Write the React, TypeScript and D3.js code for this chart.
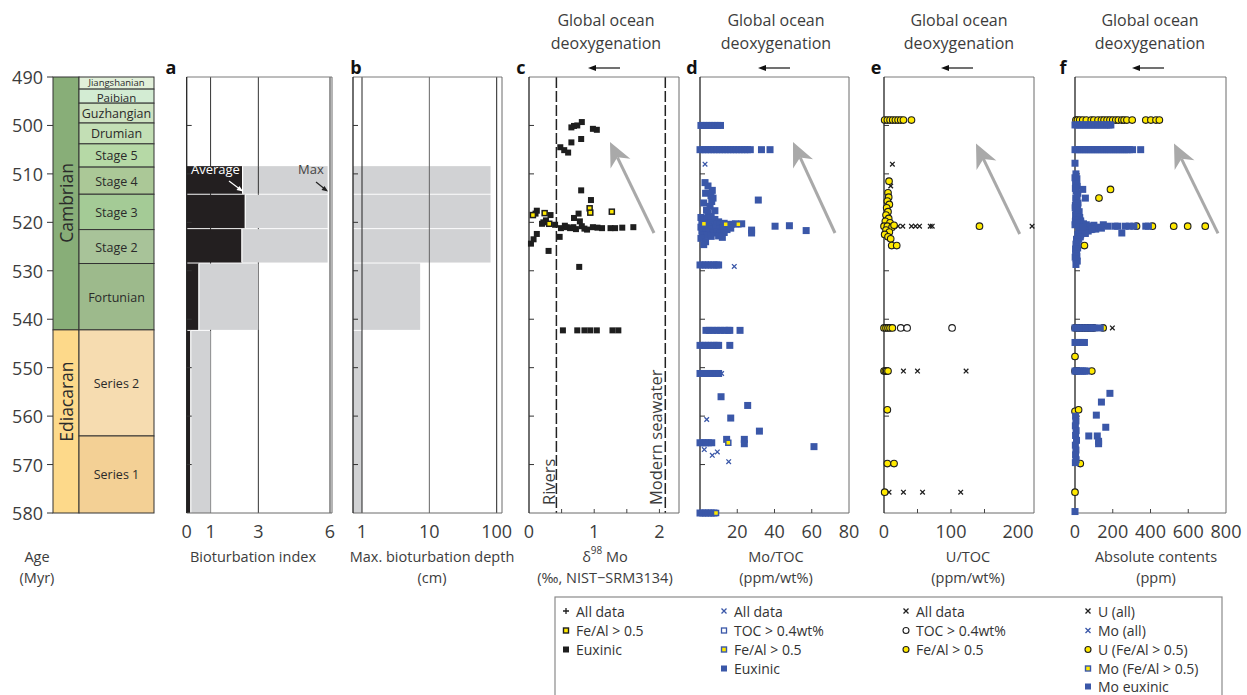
import React from "react";
import * as d3 from "d3";

type Pt = [number, number]; // [value, age in Myr]

const FONT = "'Open Sans', 'Noto Sans', 'DejaVu Sans', sans-serif";
const BLUE = "#3A57A8";
const YELLOW = "#FFE900";
const BLACK = "#1E1E1E";
const GRAY_BAR = "#D1D2D4";
const TEXT = "#3C3C3C";

// ---- geological time scale ----
const ageTicks = [490, 500, 510, 520, 530, 540, 550, 560, 570, 580];
const innerTicks = [500, 510, 520, 530, 540, 550, 560, 570];

const periods = [
  { name: "Cambrian", top: 490, base: 542.2, color: "#88AE78", labelAge: 516 },
  { name: "Ediacaran", top: 542.2, base: 580, color: "#FDD98A", labelAge: 557 },
];

const stages = [
  { name: "Jiangshanian", top: 490, base: 492.5, color: "#E2F0DA" },
  { name: "Paibian", top: 492.5, base: 495.4, color: "#D3ECD3" },
  { name: "Guzhangian", top: 495.4, base: 499.5, color: "#CEE3C1" },
  { name: "Drumian", top: 499.5, base: 503.8, color: "#C3DFB5" },
  { name: "Stage 5", top: 503.8, base: 508.6, color: "#B6D9A6" },
  { name: "Stage 4", top: 508.6, base: 514.2, color: "#ABC897" },
  { name: "Stage 3", top: 514.2, base: 521.5, color: "#A4CB96" },
  { name: "Stage 2", top: 521.5, base: 528.5, color: "#A8C399" },
  { name: "Fortunian", top: 528.5, base: 542.2, color: "#9DBA8C" },
  { name: "Series 2", top: 542.2, base: 564.1, color: "#F6DCB0" },
  { name: "Series 1", top: 564.1, base: 580, color: "#F3D095" },
];

// ---- a, b: bioturbation ----
const bioTop = [508.4, 514.3, 521.4, 528.5, 542.4];
const bioBase = [514.1, 521.2, 528.3, 542.2, 580];
const bioAverage = [2.34, 2.45, 2.31, 0.51, 0.17];
const bioMax = [5.9, 5.9, 5.9, 3.0, 1.0];
const bioDepthMax = [81, 81, 81, 7.3, 1.0];

// ---- c: d98Mo ----
const cEuxinic: Pt[] = [
  [0.65, 500.4], [0.69, 500.1], [0.74, 500.0], [0.81, 499.3], [0.98, 500.7], [1.04, 500.9],
  [0.65, 503.5], [0.8, 502.8], [0.48, 504.5], [0.54, 505.1], [0.6, 505.6],
  [0.8, 513.4], [0.95, 515.4],
  [0.12, 517.6], [0.1, 518.2], [0.33, 518.5], [0.26, 519.6], [0.22, 520.0], [0.2, 520.3], [0.4, 520.5],
  [0.49, 521.2], [0.55, 520.7], [0.58, 521.0], [0.63, 521.2], [0.68, 521.0], [0.69, 519.1], [0.76, 518.2],
  [0.78, 519.8], [0.81, 520.8], [0.72, 521.4], [0.85, 521.3], [0.89, 521.5], [0.98, 521.0], [1.05, 521.1],
  [1.12, 521.2], [1.25, 521.2], [1.32, 521.2], [1.43, 521.1], [1.6, 521.0],
  [0.12, 522.4], [0.07, 523.5], [0.03, 524.4], [0.47, 523.0], [0.3, 525.9], [0.77, 529.2],
  [0.52, 542.3], [0.74, 542.3], [0.85, 542.3], [0.94, 542.3], [1.04, 542.3], [1.28, 542.3], [1.37, 542.3],
];
const cFeAl: Pt[] = [
  [0.93, 517.1], [0.94, 518.0], [1.27, 517.8], [0.06, 518.5], [0.24, 518.1], [0.31, 520.3],
];

// ---- d: Mo/TOC ----
const dEuxinicRows = [
  { age: 500.0, values: [0.5, 2, 3.5, 5, 6.5, 8, 9.5, 11] },
  { age: 505.0, values: [0, 1.5, 3, 4.5, 6, 7.5, 9, 10.5, 12, 13.5, 15, 16.5, 18, 19.5, 21, 22.5, 24, 25.5, 27, 33, 37.6] },
  { age: 528.8, values: [0, 1.5, 3, 4.5, 6, 7.5, 9, 10] },
  { age: 542.3, values: [3.2, 5, 7, 9, 11, 13, 15, 16, 21.5] },
  { age: 545.4, values: [0, 1.5, 3, 4.5, 6, 7.5, 9, 10, 16] },
  { age: 551.2, values: [0, 2, 4, 6, 8, 10] },
  { age: 565.5, values: [0, 1.5, 3, 4.5, 6.3] },
  { age: 580.0, values: [0, 1.5, 3, 4.5, 6, 7.5] },
];
const dEuxinicPts: Pt[] = [
  [2.7, 511.8], [4.3, 512.5], [6.6, 513.4], [3, 514], [5.9, 514.5], [7, 515], [6.3, 515.7], [2, 516],
  [5.4, 516.7], [3.5, 517.5], [8, 517.6], [4.3, 518.1], [6, 518.8], [2, 519.5], [31.3, 515.4],
  [0.5, 519], [2, 519.5], [4, 519.2], [6, 519.8], [8, 519.4], [10, 519.9], [1, 520.3], [3, 520.5],
  [5, 520.2], [7, 520.6], [9, 520.3], [11, 520.5], [13, 520.2], [15, 520.6], [17, 520.4], [19, 520.3],
  [0.5, 521], [2.5, 521.2], [4.5, 521], [6.5, 521.4], [8.5, 521.1], [10.5, 521.3], [12.5, 521.1],
  [14.5, 521.5], [16.5, 521.2], [1, 521.8], [3, 522], [5, 521.9], [7, 522.2], [9, 521.9], [11, 522.3],
  [13, 522.1], [1.5, 522.6], [4, 522.7], [6, 522.9], [10, 522.8], [12, 523.1], [0.5, 523.3], [3, 524],
  [2, 524.6], [22.4, 520.3], [27.7, 522.2], [27.7, 521.6], [40.3, 520.8], [48, 520.7], [57, 521.7],
  [11.3, 556.0], [25.6, 557.8], [16.5, 560.4], [31.9, 563.1], [14.3, 564.8], [23.8, 564.8],
  [23.8, 565.7], [61.2, 566.3],
];
const dAll: Pt[] = [
  [2.7, 508.0], [18.4, 529.1], [11.6, 551.2], [6, 551.2], [3.6, 560.7], [2.3, 566.9], [6.6, 568.1],
  [9.3, 567.4], [15.4, 569.4],
];
const dFeAl: Pt[] = [[13.8, 520.4], [20.6, 520.4], [2.1, 520.3], [15.2, 565.5], [8.6, 580]];

// ---- e: U/TOC ----
const eFeAl: Pt[] = [
  [1, 498.9], [5, 498.9], [9, 498.9], [13, 498.9], [17, 498.9], [21, 498.9], [25, 498.9], [29, 498.9], [41, 498.9],
  [7.5, 511.5], [6, 513.9], [7, 514.8], [5, 515.6], [8, 516.3], [4, 517], [6, 517.8], [3, 518.5], [7, 519.2],
  [2, 519.8], [9, 520.1], [0, 520.8], [5, 520.8], [12, 521], [15, 520.6], [3, 521.6], [8, 522], [1, 522.5],
  [6, 523], [10, 523.4], [11.5, 524.8], [19, 524.8], [142.5, 520.8],
  [0, 541.8], [3, 541.8], [6, 541.8], [9, 541.8], [12.5, 541.8],
  [0, 550.7], [2, 550.7], [4, 550.7], [6, 550.7],
  [5, 558.7], [5, 569.8], [15, 569.8], [1, 575.7],
];
const eTOC: Pt[] = [[25, 541.8], [34.5, 541.8], [101.6, 541.8]];
const eAll: Pt[] = [
  [12.5, 508], [10, 512.5], [21, 520.8], [28, 520.8], [41, 520.8], [47, 520.8], [53, 520.8], [69, 520.8],
  [72, 520.8], [221, 520.8], [29, 550.7], [50, 550.7], [122.5, 550.7], [7.5, 575.7], [29, 575.7],
  [57.5, 575.7], [114.5, 575.7],
];

// ---- f: absolute contents ----
const fU_FeAl: Pt[] = [
  [5, 498.9], [13, 498.9], [25, 498.9], [41, 498.9], [60, 498.9], [86, 498.9], [100, 498.9], [122, 498.9],
  [140, 498.9], [154, 498.9], [170, 498.9], [185, 498.9], [200, 498.9], [216, 498.9], [230, 498.9],
  [248, 498.9], [260, 498.9], [275, 498.9], [303, 498.9], [375, 498.9], [402, 498.9], [429, 498.9], [447, 498.9],
  [188, 513.2], [127, 515], [50, 524.8],
  [326, 520.8], [410, 520.8], [523, 520.8], [597, 520.8], [690, 520.8],
  [0, 541.8], [10, 541.8], [20, 541.8], [30, 541.8], [40, 541.8], [50, 541.8], [60, 541.8], [70, 541.8],
  [80, 541.8], [90, 541.8], [100, 541.8], [149, 541.8],
  [0, 547.7], [0, 550.7], [10, 550.7], [89, 550.7], [0, 559], [19, 558.7], [28, 569.8], [0, 575.7],
];
const fU_all: Pt[] = [[198, 541.8]];
const fMoEuxRows = [
  { age: 499.9, values: [0, 12, 24, 36, 48, 60, 72, 84, 96, 108, 120, 132, 144, 156, 168, 180, 190] },
  { age: 505.0, values: [0, 12, 24, 36, 48, 60, 72, 84, 96, 108, 120, 132, 144, 156, 168, 180, 192, 204, 216, 228, 240, 252, 264, 276, 288, 305, 348] },
  { age: 541.8, values: [0, 15, 30, 45, 60, 75, 90, 100, 134] },
  { age: 544.8, values: [0, 10, 20, 30, 40, 50] },
  { age: 550.7, values: [0, 10, 20, 30, 40, 50, 60] },
];
const fMoEuxPts: Pt[] = [
  [0, 507.8], [5, 510], [10, 511], [3, 512], [12, 512.5], [6, 513.5], [15, 514], [4, 515], [10, 516],
  [2, 516.5], [14, 517], [6, 517.5], [18, 518], [3, 518.5], [9, 519], [20, 519.3], [2, 519.8],
  [0, 510.8], [8, 512], [2, 513], [11, 514.5], [7, 515.5], [16, 516], [1, 517], [22, 517.8], [12, 518.5],
  [25, 519], [4, 519.6], [14, 519.8], [30, 519.7], [18, 520.4], [35, 521.6], [22, 522], [30, 522.6],
  [45, 521], [65, 521.1], [85, 521.5], [110, 521.4], [20, 523.5], [14, 525.3], [5, 526], [1, 527.2],
  [30, 520], [45, 520.3], [60, 520.5], [80, 520.8], [100, 520.6], [120, 521], [25, 521.3], [50, 521.5],
  [70, 521.8], [90, 521.4], [35, 522], [55, 522.3], [15, 522.5], [28, 523], [8, 523.5], [12, 524],
  [5, 524.5], [10, 525], [3, 525.5], [8, 526], [4, 526.5], [10, 527], [6, 527.5], [12, 528], [5, 528.7],
  [0, 520.5], [10, 520.2], [20, 521], [40, 521], [150, 520.5], [140, 521.2],
  [41, 513.2], [55, 515], [175, 520.8], [212, 520.8], [226, 520.8], [266, 520.8], [288, 520.8],
  [312, 520.8], [375, 520.8], [389, 520.8], [248, 522.2],
  [185, 555.3], [140, 557.1], [113, 559.8], [163, 562.3], [73, 564.1], [118, 564.1], [125, 565.2],
  [125, 565.7], [3, 560], [5, 561], [2, 562], [6, 563], [3, 564], [8, 565], [2, 566], [5, 567], [3, 568],
  [6, 569], [2, 569.6], [0, 579.7],
];

// ---- scales ----
const y = d3.scaleLinear().domain([490, 580]).range([77, 513]);
const xa = d3.scaleLinear().domain([0, 6]).range([186.7, 330]);
const xb = d3.scaleLog().domain([1, 100]).range([362, 496.7]);
const xc = d3.scaleLinear().domain([0, 2.3]).range([529, 679]);
const xd = d3.scaleLinear().domain([0, 80]).range([700, 849]);
const xe = d3.scaleLinear().domain([0, 200]).range([884, 1018]);
const xf = d3.scaleLinear().domain([0, 800]).range([1075, 1226]);

const rowsToPts = (rows: { age: number; values: number[] }[]): Pt[] =>
  rows.flatMap((r) => r.values.map((v) => [v, r.age] as Pt));

// ---- marker helpers ----
const square = (k: string, cx: number, cy: number, s: number, fill: string, stroke = "none", sw = 0) => (
  <rect key={k} x={cx - s / 2} y={cy - s / 2} width={s} height={s} fill={fill} stroke={stroke} strokeWidth={sw} />
);
const circle = (k: string, cx: number, cy: number, r: number, fill: string, stroke = BLACK) => (
  <circle key={k} cx={cx} cy={cy} r={r} fill={fill} stroke={stroke} strokeWidth={1.1} />
);
const cross = (k: string, cx: number, cy: number, a: number, color: string) => (
  <path key={k} d={`M${cx - a},${cy - a}L${cx + a},${cy + a}M${cx - a},${cy + a}L${cx + a},${cy - a}`} stroke={color} strokeWidth={1.3} />
);
const plus = (k: string, cx: number, cy: number, a: number, color: string) => (
  <path key={k} d={`M${cx - a},${cy}L${cx + a},${cy}M${cx},${cy - a}L${cx},${cy + a}`} stroke={color} strokeWidth={1.3} />
);

function bigArrow(tail: [number, number], tip: [number, number]) {
  const dx = tip[0] - tail[0], dy = tip[1] - tail[1];
  const len = Math.hypot(dx, dy);
  const ux = dx / len, uy = dy / len, nx = -uy, ny = ux;
  const hl = 24, hw = 11, notch = 7;
  const bx = tip[0] - ux * hl, by = tip[1] - uy * hl;
  const head = [
    [tip[0], tip[1]],
    [bx + nx * hw, by + ny * hw],
    [tip[0] - ux * (hl - notch), tip[1] - uy * (hl - notch)],
    [bx - nx * hw, by - ny * hw],
  ].map((p) => p.join(",")).join(" ");
  return (
    <g>
      <line x1={tail[0]} y1={tail[1]} x2={tip[0] - ux * (hl - notch)} y2={tip[1] - uy * (hl - notch)} stroke="#A9A9A9" strokeWidth={3} />
      <polygon points={head} fill="#A9A9A9" />
    </g>
  );
}

function smallArrow(cx: number) {
  const x0 = cx + 16, x1 = cx - 16, yy = 68;
  return (
    <g>
      <line x1={x0} x2={x1 + 4} y1={yy} y2={yy} stroke="#111" strokeWidth={1.2} />
      <polygon points={`${x1},${yy} ${x1 + 8},${yy - 3} ${x1 + 8},${yy + 3}`} fill="#111" />
    </g>
  );
}

function Frame({ x0, x1 }: { x0: number; x1: number }) {
  return (
    <g>
      <line x1={x0} x2={x1} y1={77} y2={77} stroke="#7A7A7A" />
      <line x1={x1} x2={x1} y1={77} y2={513} stroke="#6A6A6A" />
      <line x1={x0} x2={x1} y1={513} y2={513} stroke="#6A6A6A" />
      <line x1={x0} x2={x0} y1={77} y2={513} stroke="#222" strokeWidth={1.3} />
      {innerTicks.map((a) => (
        <line key={a} x1={x0} x2={x0 + 5} y1={y(a)} y2={y(a)} stroke="#333" />
      ))}
    </g>
  );
}

function BottomAxis({ scale, ticks, labels }: { scale: (v: number) => number; ticks: number[]; labels: number[] }) {
  return (
    <g>
      {ticks.map((t) => (
        <line key={"t" + t} x1={scale(t)} x2={scale(t)} y1={513} y2={509} stroke="#444" />
      ))}
      {labels.map((t) => (
        <text key={"l" + t} x={scale(t)} y={531} textAnchor="middle" dominantBaseline="central" fontSize={18} fill={TEXT}>
          {t}
        </text>
      ))}
    </g>
  );
}

function AxisTitle({ cx, lines }: { cx: number; lines: React.ReactNode[] }) {
  return (
    <g>
      {lines.map((l, i) => (
        <text key={i} x={cx} y={556 + i * 21} textAnchor="middle" dominantBaseline="central" fontSize={14.5} fill={TEXT}>
          {l}
        </text>
      ))}
    </g>
  );
}

function PanelHeader({ letter, lx, cx }: { letter: string; lx: number; cx?: number }) {
  return (
    <g>
      <text x={lx} y={74} textAnchor="middle" fontSize={18} fontWeight="bold" fill="#111">
        {letter}
      </text>
      {cx !== undefined && (
        <g>
          <text x={cx} y={26} textAnchor="middle" fontSize={16} fill={TEXT}>Global ocean</text>
          <text x={cx} y={49} textAnchor="middle" fontSize={16} fill={TEXT}>deoxygenation</text>
          {smallArrow(cx - 2)}
        </g>
      )}
    </g>
  );
}

const legendCols = [
  { x: 566, items: ["plusK", "sqYK", "sqK"], labels: ["All data", "Fe/Al > 0.5", "Euxinic"] },
  { x: 724, items: ["xB", "sqOpenB", "sqYB", "sqB"], labels: ["All data", "TOC > 0.4wt%", "Fe/Al > 0.5", "Euxinic"] },
  { x: 906, items: ["xK", "circOpen", "circY"], labels: ["All data", "TOC > 0.4wt%", "Fe/Al > 0.5"] },
  { x: 1088, items: ["xK", "xB", "circY", "sqYB", "sqB"], labels: ["U (all)", "Mo (all)", "U (Fe/Al > 0.5)", "Mo (Fe/Al > 0.5)", "Mo euxinic"] },
];
const legendRowY = [611, 630.5, 649.5, 668.5, 686.5];

function legendMarker(kind: string, k: string, cx: number, cy: number) {
  switch (kind) {
    case "plusK": return plus(k, cx, cy, 3, BLACK);
    case "sqYK": return square(k, cx, cy, 5, YELLOW, BLACK, 1.4);
    case "sqK": return square(k, cx, cy, 6, BLACK);
    case "xB": return cross(k, cx, cy, 2.5, BLUE);
    case "xK": return cross(k, cx, cy, 2.5, BLACK);
    case "sqOpenB": return square(k, cx, cy, 5, "#fff", BLUE, 1.3);
    case "sqYB": return square(k, cx, cy, 5, YELLOW, BLUE, 1.4);
    case "sqB": return square(k, cx, cy, 6, BLUE);
    case "circOpen": return circle(k, cx, cy, 3, "#fff");
    case "circY": return circle(k, cx, cy, 3, YELLOW);
    default: return null;
  }
}

const stageFont = (name: string) => (name === "Jiangshanian" ? 9.5 : name === "Paibian" ? 11.5 : 12.5);
const stageShift = (name: string) => (name === "Jiangshanian" ? -0.5 : name === "Paibian" ? 1.5 : 0.5);

export default function App() {
  const dEux = [...rowsToPts(dEuxinicRows), ...dEuxinicPts];
  const fEux = [...rowsToPts(fMoEuxRows), ...fMoEuxPts];

  return (
    <svg width={1247} height={695} style={{ position: "absolute", left: 0, top: 0, fontFamily: FONT }}>
      <rect width={1247} height={695} fill="#fff" />

      {/* ===== time scale ===== */}
      {periods.map((p) => (
        <g key={p.name}>
          <rect x={53} y={y(p.top)} width={26} height={y(p.base) - y(p.top)} fill={p.color} stroke="#333" strokeWidth={1} />
          <text transform={`translate(66,${y(p.labelAge)}) rotate(-90)`} textAnchor="middle" dominantBaseline="central" fontSize={17.5} fill="#2A2A2A">
            {p.name}
          </text>
        </g>
      ))}
      {stages.map((s) => (
        <g key={s.name}>
          <rect x={79} y={y(s.top)} width={75} height={y(s.base) - y(s.top)} fill={s.color} stroke="#333" strokeWidth={1} />
          <text x={116.5} y={(y(s.top) + y(s.base)) / 2 + stageShift(s.name)} textAnchor="middle" dominantBaseline="central"
            fontSize={stageFont(s.name)} fill="#2A2A2A">
            {s.name}
          </text>
        </g>
      ))}
      {ageTicks.map((a) => (
        <g key={a}>
          <line x1={47} x2={53} y1={y(a)} y2={y(a)} stroke="#333" />
          <text x={43} y={y(a)} textAnchor="end" dominantBaseline="central" fontSize={18} fill={TEXT}>{a}</text>
        </g>
      ))}
      <text x={37} y={556} textAnchor="middle" dominantBaseline="central" fontSize={14.5} fill={TEXT}>Age</text>
      <text x={37} y={577} textAnchor="middle" dominantBaseline="central" fontSize={14.5} fill={TEXT}>(Myr)</text>

      {/* ===== a: bioturbation index ===== */}
      <PanelHeader letter="a" lx={171} />
      {[1, 3].map((v) => (
        <line key={v} x1={xa(v)} x2={xa(v)} y1={77} y2={513} stroke="#333" strokeWidth={1} />
      ))}
      {bioTop.map((t, i) => (
        <g key={i}>
          <rect x={xa(0)} y={y(t)} width={xa(bioAverage[i]) - xa(0)} height={y(bioBase[i]) - y(t)} fill="#231F20" />
          <rect x={xa(bioAverage[i])} y={y(t)} width={xa(bioMax[i]) - xa(bioAverage[i])} height={y(bioBase[i]) - y(t)} fill={GRAY_BAR} />
          <line x1={xa(bioAverage[i])} x2={xa(bioAverage[i])} y1={y(t)} y2={y(bioBase[i])} stroke="#fff" strokeWidth={1.2} />
        </g>
      ))}
      <line x1={xa(3)} x2={xa(3)} y1={y(bioTop[0])} y2={y(bioBase[0])} stroke="#333" />
      <line x1={xa(6)} x2={xa(6)} y1={77} y2={513} stroke="#333" />
      <Frame x0={186.7} x1={332} />
      <text x={191} y={174} fontSize={13} fill="#fff">Average</text>
      <line x1={229} y1={181} x2={241} y2={190} stroke="#fff" strokeWidth={1.2} />
      <polygon points="243,191.5 236.5,190 239.5,186" fill="#fff" />
      <text x={298} y={174} fontSize={13} fill="#444">Max</text>
      <line x1={316} y1={182} x2={326} y2={190} stroke="#222" strokeWidth={1.2} />
      <polygon points="328,191.5 321.5,190 324.5,186" fill="#222" />
      <BottomAxis scale={xa} ticks={[]} labels={[0, 1, 3, 6]} />
      <AxisTitle cx={253} lines={["Bioturbation index"]} />

      {/* ===== b: max. bioturbation depth ===== */}
      <PanelHeader letter="b" lx={356} />
      {bioTop.map((t, i) => (
        <rect key={i} x={353} y={y(t)} width={xb(bioDepthMax[i]) - 353} height={y(bioBase[i]) - y(t)} fill={GRAY_BAR} />
      ))}
      {[1, 10, 100].map((v) => (
        <line key={v} x1={xb(v)} x2={xb(v)} y1={77} y2={513} stroke={v === 10 ? "#666" : "#222"} strokeWidth={1} />
      ))}
      <Frame x0={353} x1={502} />
      <BottomAxis scale={xb} ticks={[]} labels={[1, 10, 100]} />
      <AxisTitle cx={432} lines={["Max. bioturbation depth", "(cm)"]} />

      {/* ===== c: d98Mo ===== */}
      <PanelHeader letter="c" lx={521} cx={606} />
      <line x1={xc(0.42)} x2={xc(0.42)} y1={77} y2={513} stroke="#222" strokeWidth={1.5} strokeDasharray="11,3" />
      <line x1={xc(2.09)} x2={xc(2.09)} y1={77} y2={513} stroke="#222" strokeWidth={1.5} strokeDasharray="11,3" />
      <Frame x0={529} x1={679} />
      <text transform="translate(548,505) rotate(-90)" dominantBaseline="central" fontSize={16.5} fill={TEXT}>Rivers</text>
      <text transform="translate(655,505) rotate(-90)" dominantBaseline="central" fontSize={16.5} fill={TEXT}>Modern seawater</text>
      {bigArrow([654, 233], [610, 142])}
      {cEuxinic.map((p, i) => square("ce" + i, xc(p[0]), y(p[1]), 6, BLACK))}
      {cFeAl.map((p, i) => square("cf" + i, xc(p[0]), y(p[1]), 5, YELLOW, BLACK, 1.5))}
      <BottomAxis scale={xc} ticks={[0.5, 1, 1.5, 2]} labels={[0, 1, 2]} />
      <AxisTitle cx={605} lines={[<tspan key="m">δ<tspan fontSize={10} dy={-6}>98</tspan><tspan dy={6}> Mo</tspan></tspan>, "(‰, NIST−SRM3134)"]} />

      {/* ===== d: Mo/TOC ===== */}
      <PanelHeader letter="d" lx={692} cx={776} />
      <Frame x0={700} x1={849} />
      {bigArrow([835, 233], [793, 142])}
      {dEux.map((p, i) => square("de" + i, xd(p[0]), y(p[1]), 7, BLUE))}
      {dAll.map((p, i) => cross("da" + i, xd(p[0]), y(p[1]), 2.3, BLUE))}
      {dFeAl.map((p, i) => square("df" + i, xd(p[0]), y(p[1]), 5, YELLOW, BLUE, 1.5))}
      <BottomAxis scale={xd} ticks={[20, 40, 60]} labels={[20, 40, 60, 80]} />
      <AxisTitle cx={776} lines={["Mo/TOC", "(ppm/wt%)"]} />

      {/* ===== e: U/TOC ===== */}
      <PanelHeader letter="e" lx={876} cx={959} />
      <Frame x0={884} x1={1034} />
      {bigArrow([1019.7, 234], [976, 143.6])}
      {eAll.map((p, i) => cross("ea" + i, xe(p[0]), y(p[1]), 2.3, BLACK))}
      {eTOC.map((p, i) => circle("et" + i, xe(p[0]), y(p[1]), 3.3, "#fff"))}
      {eFeAl.map((p, i) => circle("ef" + i, xe(p[0]), y(p[1]), 3.3, YELLOW))}
      <BottomAxis scale={xe} ticks={[50, 100, 150]} labels={[0, 100, 200]} />
      <AxisTitle cx={968} lines={["U/TOC", "(ppm/wt%)"]} />

      {/* ===== f: absolute contents ===== */}
      <PanelHeader letter="f" lx={1063} cx={1150} />
      <Frame x0={1075} x1={1226} />
      {bigArrow([1218, 233.4], [1174, 143.6])}
      {fU_FeAl.map((p, i) => circle("fu" + i, xf(p[0]), y(p[1]), 3.3, YELLOW))}
      {fEux.map((p, i) => square("fm" + i, xf(p[0]), y(p[1]), 7, BLUE))}
      {fU_all.map((p, i) => cross("fx" + i, xf(p[0]), y(p[1]), 2.3, BLACK))}
      <BottomAxis scale={xf} ticks={[200, 400, 600]} labels={[0, 200, 400, 600, 800]} />
      <AxisTitle cx={1156} lines={["Absolute contents", "(ppm)"]} />

      {/* ===== legend ===== */}
      <rect x={555} y={597} width={667} height={120} fill="#fff" stroke="#8A8A8A" strokeWidth={1.2} />
      {legendCols.map((col, ci) =>
        col.items.map((it, ri) => (
          <g key={ci + "-" + ri}>
            {legendMarker(it, "lm" + ci + ri, col.x, legendRowY[ri])}
            <text x={col.x + 10} y={legendRowY[ri]} dominantBaseline="central" fontSize={14} fill="#333">
              {col.labels[ri]}
            </text>
          </g>
        ))
      )}
    </svg>
  );
}
